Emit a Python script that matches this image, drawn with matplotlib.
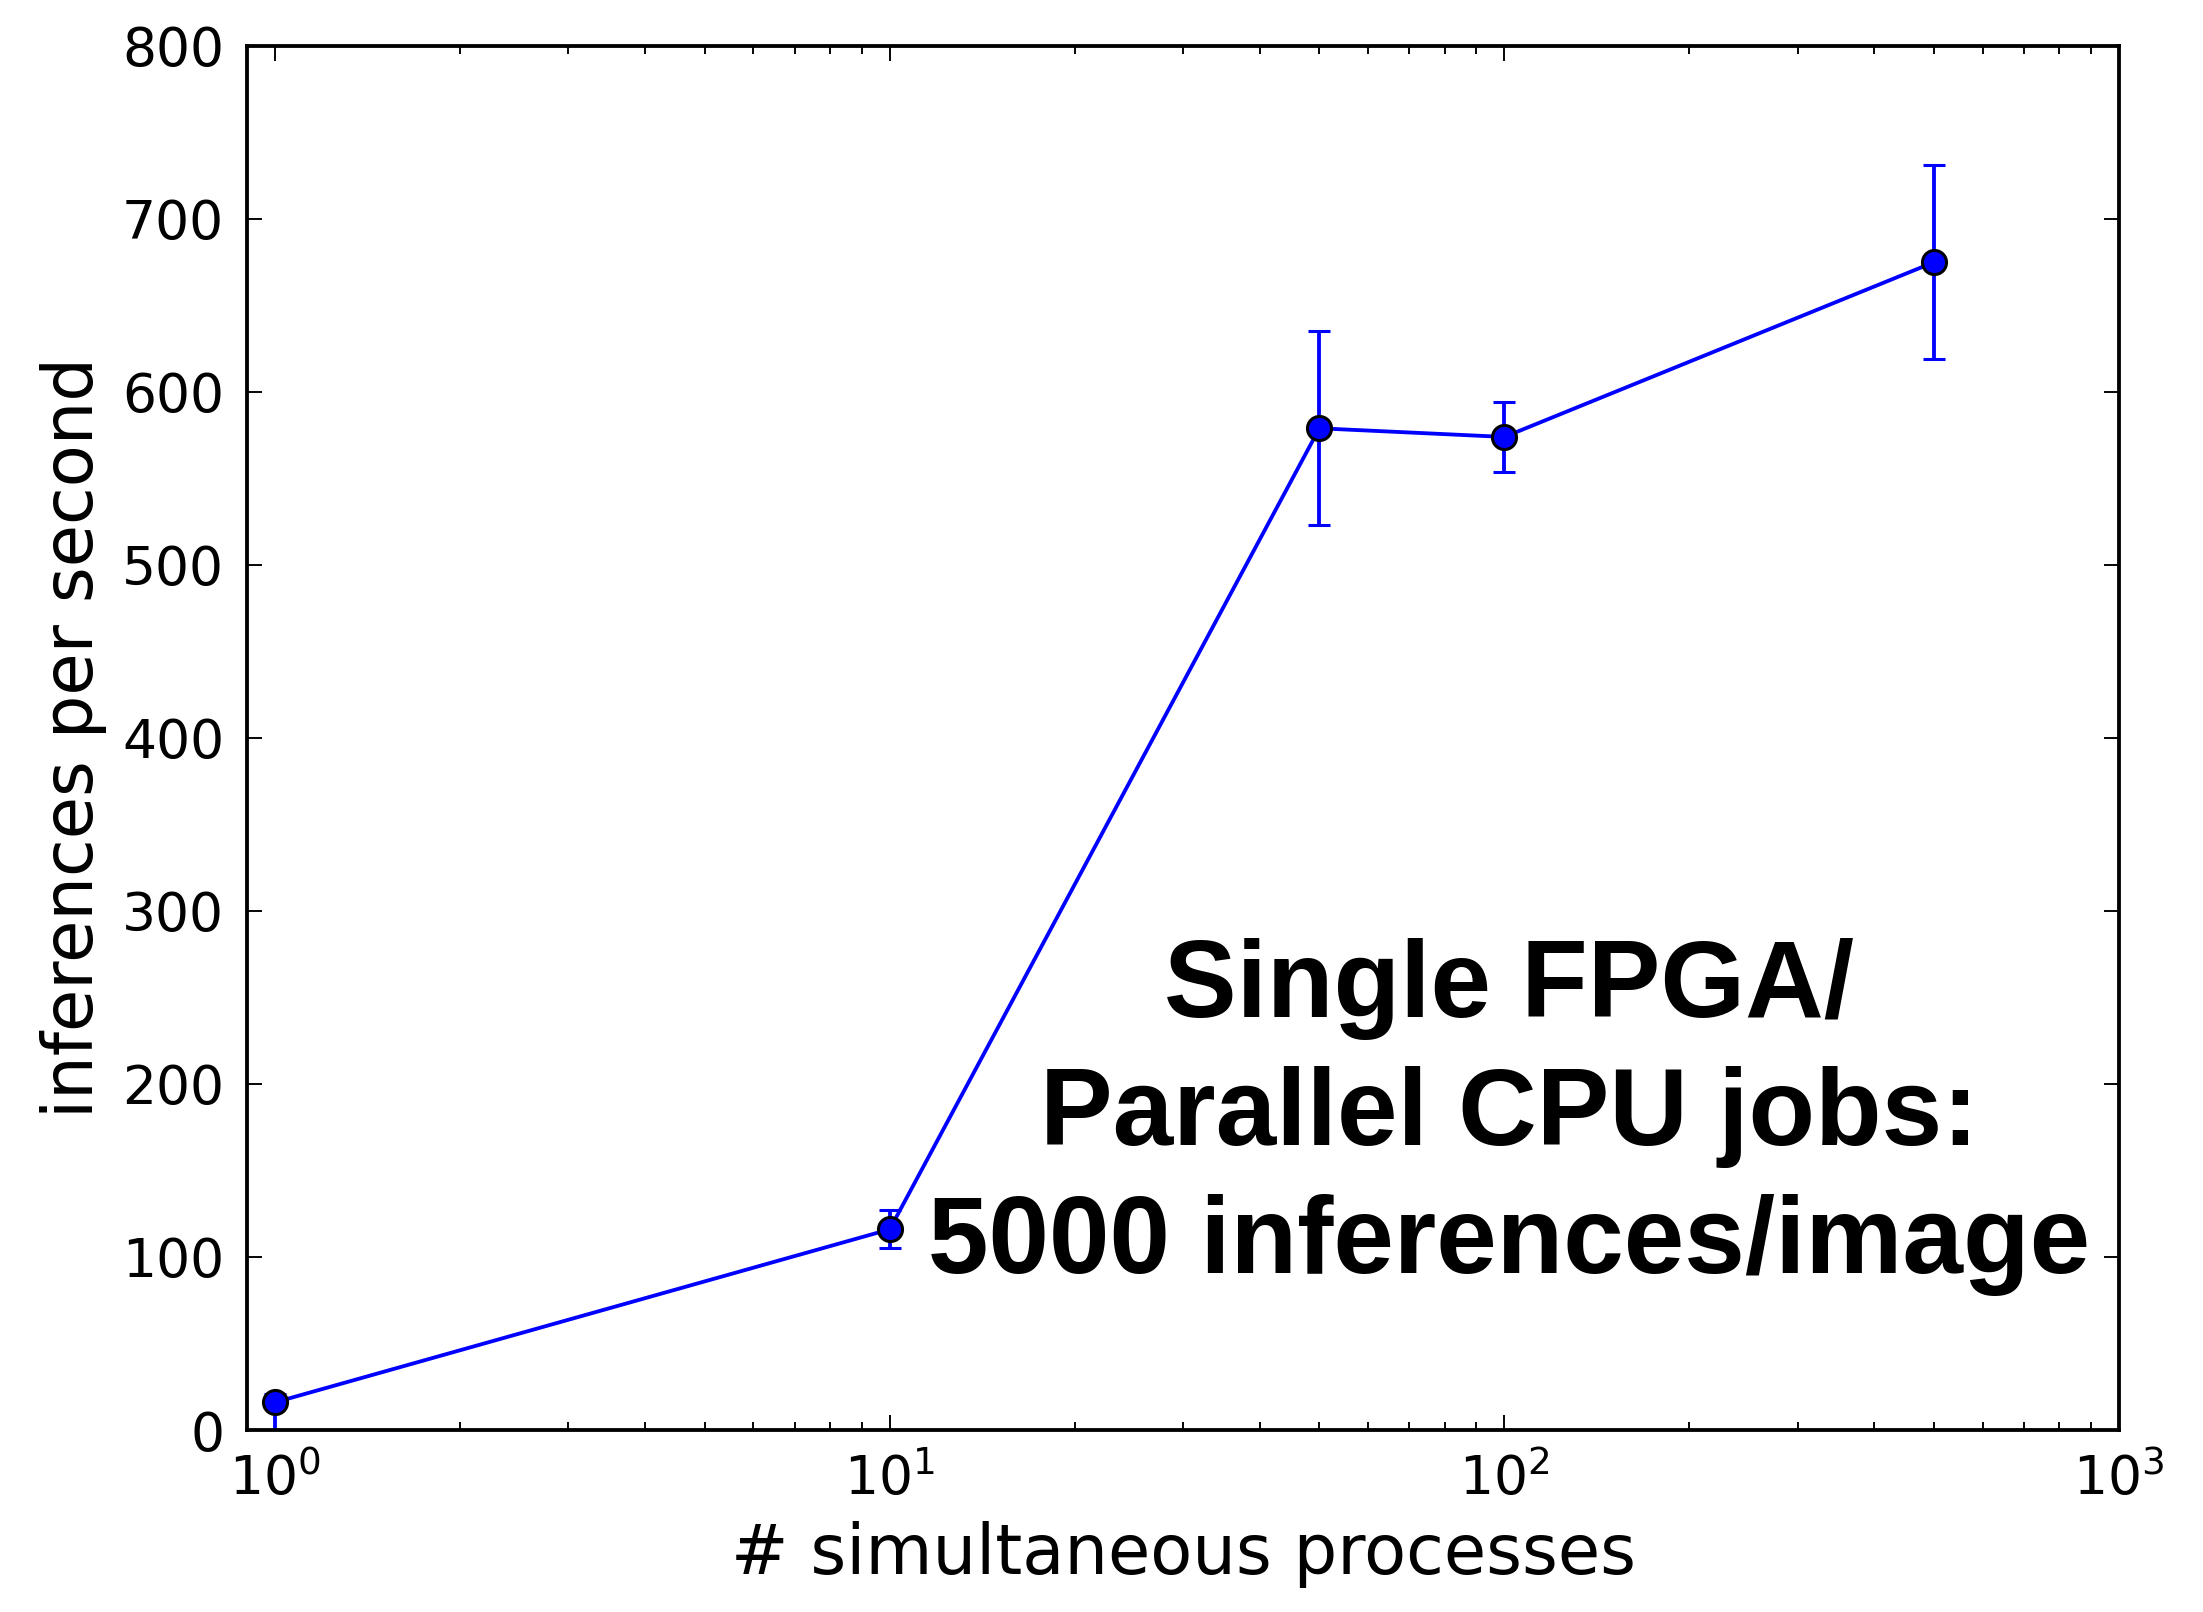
import matplotlib
matplotlib.use("Agg")
import matplotlib.pyplot as plt

# Throughput measurements
processes = [1, 10, 50, 100, 500]
inferences_per_sec = [16, 116, 579, 574, 675]
err_low = [17, 11, 56, 20, 56]
err_high = [5, 11, 56, 20, 56]

x_ticks = [1, 10, 100, 1000]
y_ticks = [0, 100, 200, 300, 400, 500, 600, 700, 800]

plt.rcParams.update({
    "font.family": "DejaVu Sans",
    "font.size": 14,
    "axes.linewidth": 1.0,
    "xtick.direction": "in",
    "ytick.direction": "in",
    "xtick.top": True,
    "ytick.right": True,
    "xtick.major.size": 4,
    "ytick.major.size": 4,
    "xtick.minor.size": 2,
    "ytick.minor.size": 2,
    "xtick.major.width": 0.5,
    "ytick.major.width": 0.5,
    "xtick.minor.width": 0.5,
    "xtick.major.pad": 6,
    "ytick.major.pad": 6,
    "mathtext.fontset": "dejavusans",
})

dpi = 275
fig = plt.figure(figsize=(2203 / dpi, 1612 / dpi), dpi=dpi, facecolor="white")
ax = fig.add_axes([0.1121, 0.1129, 0.9619 - 0.1121, 0.9715 - 0.1129])

ax.errorbar(processes, inferences_per_sec, yerr=[err_low, err_high], color="blue",
            marker="o", markersize=6.3, markerfacecolor="blue",
            markeredgecolor="black", markeredgewidth=0.8,
            linewidth=1.0, elinewidth=1.0, capsize=3, capthick=1.0)

ax.set_xscale("log")
ax.set_xlim(0.9, 1000)
ax.set_ylim(0, 800)
ax.set_xticks(x_ticks)
ax.set_yticks(y_ticks)
ax.tick_params(labelsize=14)

ax.set_xlabel("# simultaneous processes", fontsize=18, labelpad=4)
ax.set_ylabel("inferences per second", fontsize=18, labelpad=4)

ax.text(0.674, 0.226, "Single FPGA/\nParallel CPU jobs:\n5000 inferences/image",
        transform=ax.transAxes, ha="center", va="center",
        fontsize=28.5, fontweight="bold", family="Liberation Sans",
        linespacing=1.33)

fig.savefig("out.png", dpi=dpi, facecolor="white")
